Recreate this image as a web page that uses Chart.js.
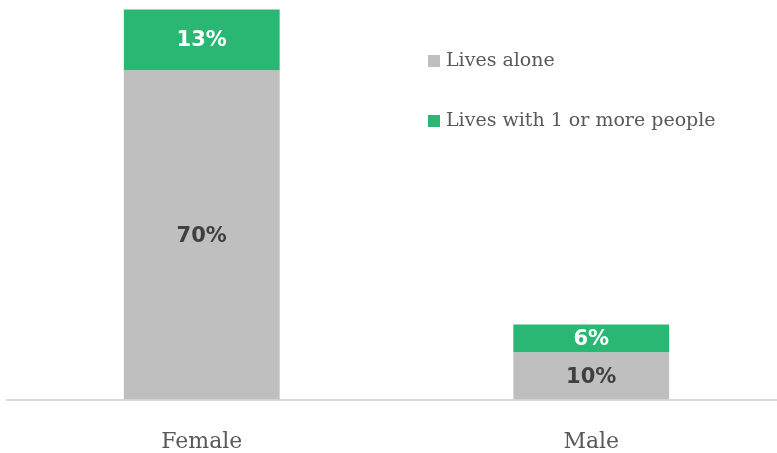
<!DOCTYPE html>
<html>
<head>
<meta charset="utf-8">
<script src="https://cdn.jsdelivr.net/npm/chart.js@4"></script>
<style>
  html, body { margin: 0; padding: 0; background: #fff; overflow: hidden; }
  #wrap { width: 786px; height: 484px; position: relative; }
</style>
</head>
<body>
<div id="wrap"><canvas id="chart"></canvas></div>
<script>
const categories = ["Female", "Male"];
const livesAlone = [70, 10];
const livesWithOthers = [13, 6];
const seriesNames = ["Lives alone", "Lives with 1 or more people"];

const GRAY = "#BFBFBF";
const GREEN = "#2AB673";

// percentage labels in the middle of each segment
const segmentLabels = {
    id: "segmentLabels",
    afterDatasetsDraw(chart) {
        const ctx = chart.ctx;
        ctx.save();
        ctx.font = "bold 21px 'DejaVu Sans', Verdana, sans-serif";
        ctx.textAlign = "center";
        ctx.textBaseline = "middle";
        chart.data.datasets.forEach((ds, i) => {
            chart.getDatasetMeta(i).data.forEach((bar, j) => {
                const mid = (bar.y + bar.base) / 2;
                ctx.fillStyle = i === 0 ? "#404040" : "#FFFFFF";
                ctx.fillText(ds.data[j] + "%", bar.x, mid + 1);
            });
        });
        ctx.restore();
    }
};

// legend sits inside the plot, top right
const insideLegend = {
    id: "insideLegend",
    afterDraw(chart) {
        const ctx = chart.ctx;
        ctx.save();
        ctx.font = "19px 'DejaVu Serif', serif";
        ctx.textBaseline = "middle";
        chart.data.datasets.forEach((ds, i) => {
            const y = 61 + i * 60;
            ctx.fillStyle = ds.backgroundColor;
            ctx.fillRect(428, y - 6, 12, 12);
            ctx.fillStyle = "#595959";
            ctx.fillText(ds.label, 446, y);
        });
        ctx.restore();
    }
};

new Chart(document.getElementById("chart"), {
    type: "bar",
    data: {
        labels: categories,
        datasets: [
            { label: seriesNames[0], data: livesAlone, backgroundColor: GRAY },
            { label: seriesNames[1], data: livesWithOthers, backgroundColor: GREEN }
        ]
    },
    options: {
        responsive: true,
        maintainAspectRatio: false,
        animation: false,
        layout: { padding: { left: 7, right: 0, top: 0, bottom: 0 } },
        datasets: { bar: { categoryPercentage: 0.8, barPercentage: 0.5 } },
        scales: {
            x: {
                stacked: true,
                grid: { display: false, drawTicks: false },
                border: { display: true, color: "#D9D9D9", width: 2 },
                ticks: {
                    color: "#595959",
                    padding: 29,
                    font: { family: "'DejaVu Serif', serif", size: 22 }
                }
            },
            y: {
                stacked: true,
                display: false,
                min: 0,
                max: 85
            }
        },
        plugins: {
            legend: { display: false },
            tooltip: { enabled: false }
        }
    },
    plugins: [segmentLabels, insideLegend]
});
</script>
</body>
</html>
